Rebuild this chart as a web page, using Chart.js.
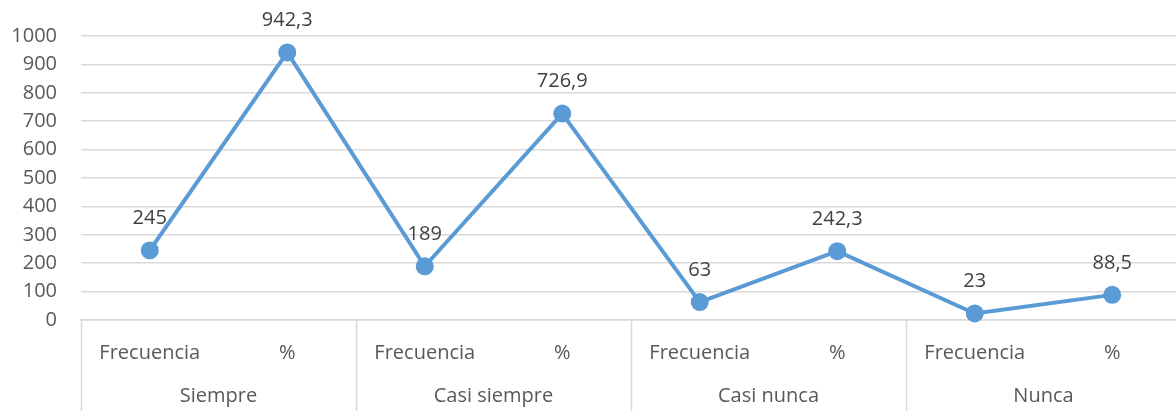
<!DOCTYPE html>
<html>
<head>
<meta charset="utf-8">
<script src="https://cdn.jsdelivr.net/npm/chart.js@4"></script>
<style>
  html, body { margin: 0; padding: 0; background: #fff; overflow: hidden; }
  #wrap { width: 1182px; height: 411px; }
  #c { width: 1182px; height: 411px; display: block; }
</style>
</head>
<body>
<div id="wrap"><canvas id="c" width="1182" height="411"></canvas></div>
<script>
(function () {
    'use strict';

    var subLabels = ['Frecuencia', '%', 'Frecuencia', '%', 'Frecuencia', '%', 'Frecuencia', '%'];
    var groups = ['Siempre', 'Casi siempre', 'Casi nunca', 'Nunca'];
    var values = [245, 942.3, 189, 726.9, 63, 242.3, 23, 88.5];
    var valueText = ['245', '942,3', '189', '726,9', '63', '242,3', '23', '88,5'];

    var textColor = '#595959';
    var gridColor = '#d9d9d9';
    var fontFamily = '"Open Sans", "Liberation Sans", sans-serif';
    var fontSize = 20;

    Chart.defaults.font.family = fontFamily;
    Chart.defaults.color = textColor;

    // group labels + separators under the axis
    var groupAxis = {
        id: 'groupAxis',
        afterDraw: function (chart) {
            var x = chart.scales.x;
            var area = chart.chartArea;
            var ctx = chart.ctx;
            var half = (x.getPixelForValue(1) - x.getPixelForValue(0)) / 2;
            ctx.save();
            ctx.strokeStyle = gridColor;
            ctx.lineWidth = 1.5;
            for (var g = 0; g <= groups.length; g++) {
                var px = g < groups.length ? x.getPixelForValue(g * 2) - half : x.getPixelForValue(g * 2 - 1) + half;
                px = Math.round(px) + 0.5;
                ctx.beginPath();
                ctx.moveTo(px, area.bottom);
                ctx.lineTo(px, chart.height);
                ctx.stroke();
            }
            ctx.fillStyle = textColor;
            ctx.font = fontSize + 'px ' + fontFamily;
            ctx.textAlign = 'center';
            ctx.textBaseline = 'middle';
            for (var i = 0; i < groups.length; i++) {
                var cx = (x.getPixelForValue(i * 2) + x.getPixelForValue(i * 2 + 1)) / 2;
                ctx.fillText(groups[i], cx, area.bottom + 76);
            }
            ctx.restore();
        }
    };

    var pointLabels = {
        id: 'pointLabels',
        afterDatasetsDraw: function (chart) {
            var meta = chart.getDatasetMeta(0);
            var ctx = chart.ctx;
            ctx.save();
            ctx.fillStyle = '#404040';
            ctx.font = fontSize + 'px ' + fontFamily;
            ctx.textAlign = 'center';
            ctx.textBaseline = 'middle';
            meta.data.forEach(function (pt, i) {
                ctx.fillText(valueText[i], pt.x, pt.y - 32);
            });
            ctx.restore();
        }
    };

    new Chart(document.getElementById('c').getContext('2d'), {
        type: 'line',
        data: {
            labels: subLabels,
            datasets: [{
                data: values,
                borderColor: '#5b9bd5',
                backgroundColor: '#5b9bd5',
                borderWidth: 4,
                pointRadius: 7,
                pointHoverRadius: 7,
                tension: 0,
                clip: false
            }]
        },
        options: {
            responsive: false,
            animation: false,
            layout: { autoPadding: false, padding: { top: 29, right: 1, left: 0, bottom: 0 } },
            plugins: {
                legend: { display: false },
                tooltip: { enabled: false }
            },
            scales: {
                x: {
                    offset: true,
                    grid: { display: false },
                    border: { display: true, color: gridColor, width: 1.5 },
                    ticks: {
                        padding: 13,
                        maxRotation: 0,
                        autoSkip: false,
                        font: { size: fontSize }
                    },
                    afterFit: function (scale) {
                        scale.height = 91;
                        scale.paddingLeft = 0;
                        scale.paddingRight = 0;
                    }
                },
                y: {
                    min: 0,
                    max: 1000,
                    grid: { color: gridColor, drawTicks: false, lineWidth: 1.5 },
                    border: { display: false },
                    ticks: {
                        stepSize: 100,
                        padding: 24,
                        font: { size: fontSize },
                        callback: function (v) { return String(v); }
                    },
                    afterFit: function (scale) { scale.width = 81; }
                }
            }
        },
        plugins: [groupAxis, pointLabels]
    });
})();
</script>
</body>
</html>
